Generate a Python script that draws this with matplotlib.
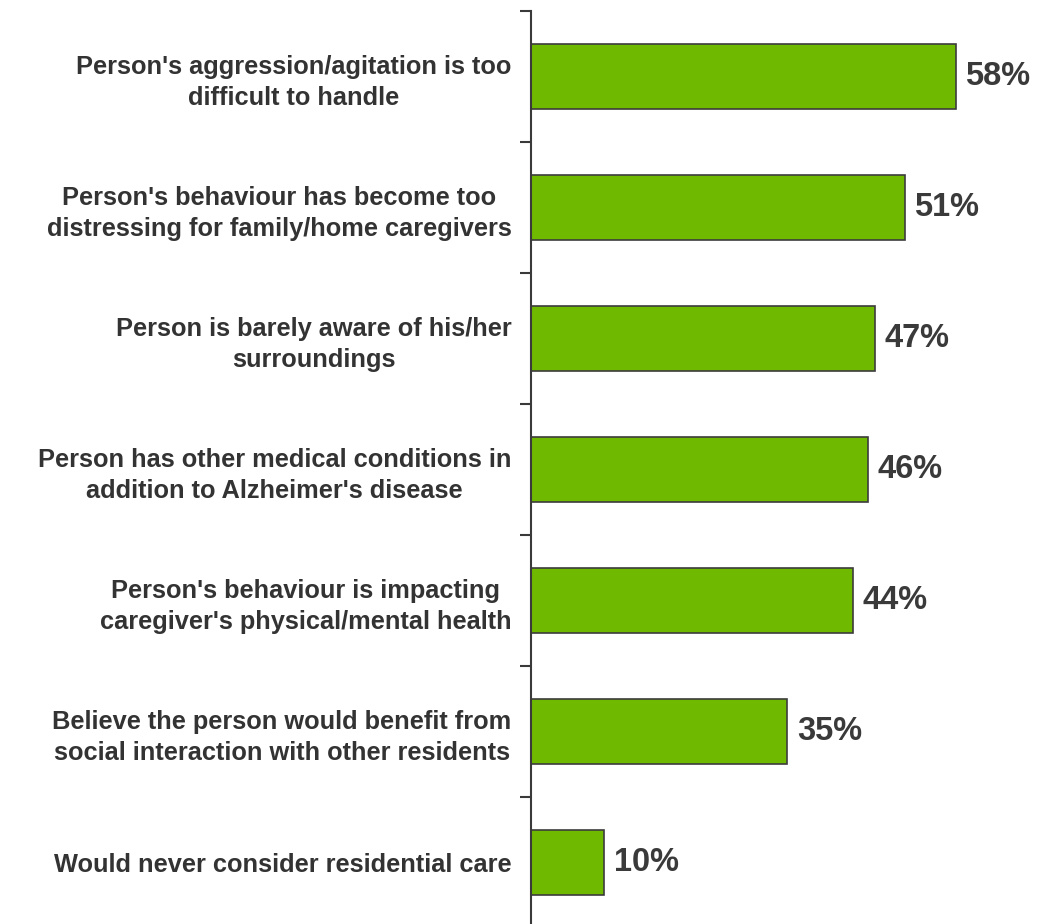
import numpy as np
import matplotlib.pyplot as plt

# data (top to bottom)
categories = [
    "Person's aggression/agitation is too\ndifficult to handle",
    "Person's behaviour has become too\ndistressing for family/home caregivers",
    "Person is barely aware of his/her\nsurroundings",
    "Person has other medical conditions in\naddition to Alzheimer's disease",
    "Person's behaviour is impacting\ncaregiver's physical/mental health",
    "Believe the person would benefit from\nsocial interaction with other residents",
    "Would never consider residential care",
]
values = [58, 51, 47, 46, 44, 35, 10]
value_labels = ["58%", "51%", "47%", "46%", "44%", "35%", "10%"]

plt.rcParams['font.family'] = ['Liberation Sans', 'DejaVu Sans']

fig = plt.figure(figsize=(10.47, 9.24), dpi=100)
ax = fig.add_axes([0.507, -0.0043, 0.49, 0.9924])

y = np.arange(len(categories))
ax.barh(y, values, height=0.49, color='#6fb900', edgecolor='#3c3c3c', linewidth=1.2)

for yi, v, lab in zip(y, values, value_labels):
    ax.text(v + 1.3, yi, lab, va='center', ha='left', fontsize=23.5,
            fontweight='bold', color='#3a3a3a')

ax.set_ylim(len(categories) - 0.5, -0.5)
ax.set_xlim(0, 70)

ax.set_yticks(y)
ax.set_yticklabels(categories, fontsize=18.3, fontweight='bold', color='#333333',
                   multialignment='center', linespacing=1.35)
ax.tick_params(axis='y', which='major', length=0, pad=14)
ax.set_yticks(np.arange(len(categories) + 1) - 0.5, minor=True)
ax.tick_params(axis='y', which='minor', length=8, width=1.5, color='#3a3a3a')

ax.set_xticks([])
for s in ['top', 'right', 'bottom']:
    ax.spines[s].set_visible(False)
ax.spines['left'].set_color('#3a3a3a')
ax.spines['left'].set_linewidth(1.5)

fig.savefig('out.png', dpi=100)
